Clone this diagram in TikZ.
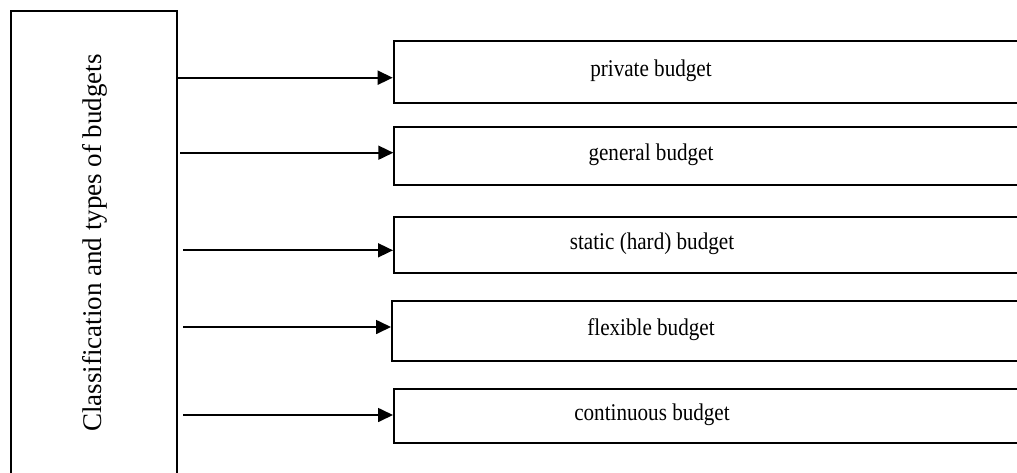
\documentclass[tikz,border=0pt]{standalone}
\usepackage{fontspec}
\setmainfont{Liberation Serif}
\usetikzlibrary{arrows.meta}
\begin{document}
\begin{tikzpicture}[x=1pt,y=-1pt,
  box/.style={draw=black,line width=2pt,fill=white,inner sep=0pt,anchor=north west},
  txt/.style={inner sep=0pt,font=\fontsize{24}{28}\selectfont},
  arr/.style={draw=black,line width=1.7pt,-{Triangle[length=15pt,width=14pt]}}]
\useasboundingbox (0,0) rectangle (1017,472);
\clip (0,0) rectangle (1017,472);
\fill[white] (0,0) rectangle (1017,472);
% left box
\node[box,minimum width=166.5pt,minimum height=466pt] (cls) at (9.5,10) {};
\node[inner sep=0pt,rotate=90,font=\fontsize{27}{30}\selectfont] (clst) at (95,243) {Classification and types of budgets};
% right boxes
\node[box,minimum width=640pt,minimum height=61.7pt] (b1) at (392.7,40) {};
\node[box,minimum width=640pt,minimum height=58pt] (b2) at (393.3,126) {};
\node[box,minimum width=640pt,minimum height=55.7pt] (b3) at (393,216) {};
\node[box,minimum width=640pt,minimum height=60pt] (b4) at (391,300) {};
\node[box,minimum width=640pt,minimum height=54pt] (b5) at (393,387.7) {};
% texts
\node[txt] (t1) at (651,71) {\scalebox{0.88}[1]{private budget}};
\node[txt] (t2) at (651,155) {\scalebox{0.88}[1]{general budget}};
\node[txt] (t3) at (652,244) {\scalebox{0.88}[1]{static (hard) budget}};
\node[txt] (t4) at (651,330) {\scalebox{0.88}[1]{flexible budget}};
\node[txt] (t5) at (652,415) {\scalebox{0.88}[1]{continuous budget}};
% arrow starts
\coordinate (s1) at (178,77.7);
\coordinate (s2) at (180,152.7);
\coordinate (s3) at (183,250.3);
\coordinate (s4) at (183,327);
\coordinate (s5) at (183,415);
\draw[arr] (s1) -- (s1 -| b1.west);
\draw[arr] (s2) -- (s2 -| b2.west);
\draw[arr] (s3) -- (s3 -| b3.west);
\draw[arr] (s4) -- (s4 -| b4.west);
\draw[arr] (s5) -- (s5 -| b5.west);
\end{tikzpicture}
\end{document}
